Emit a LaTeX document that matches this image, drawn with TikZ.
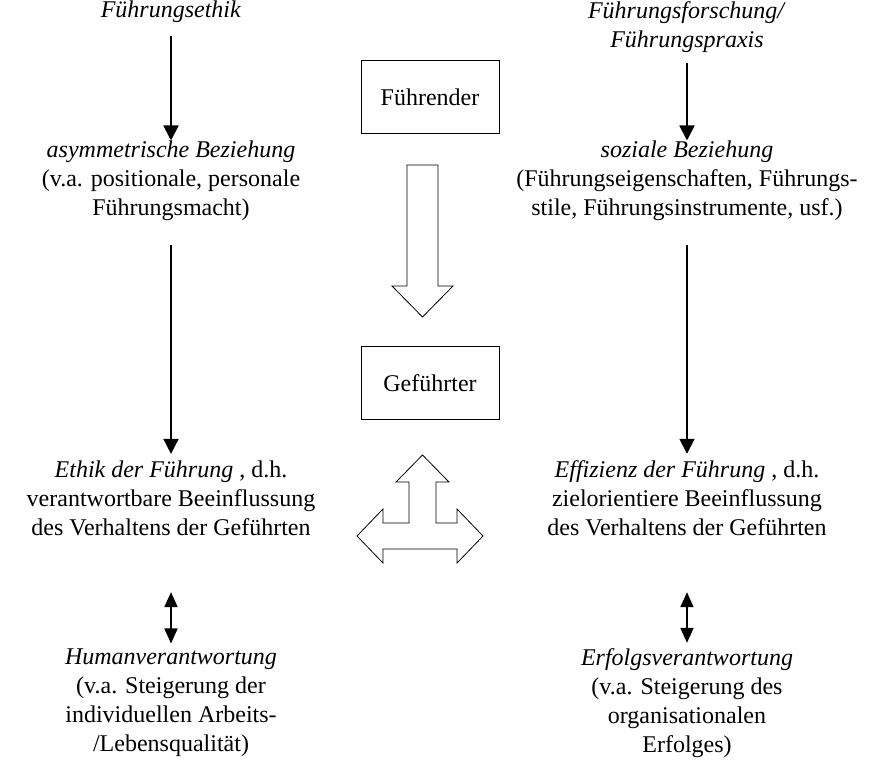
\documentclass[tikz,border=0pt]{standalone}
\usepackage{fontspec}
\setmainfont{Liberation Serif}
\usetikzlibrary{arrows.meta,arrows}
\usetikzlibrary{positioning}

\begin{document}
\begin{tikzpicture}[x=0.5pt,y=-0.5pt,>={Triangle[length=7.5pt,width=7.5pt]},semithick]
 \tikzstyle{text node}=[align=center,inner sep=0,font=\fontsize{12}{14.5}\selectfont]
 \tikzstyle{box node}=[rectangle,draw,thin,minimum width=69pt,minimum height=36.5pt,font=\fontsize{12}{14.5}\selectfont]
 \tikzset{
 	down arrow/.style={->,line width=0.9pt,shorten <=#1},
 	both arrow/.style={{Triangle[length=7.5pt,width=6.5pt]}-{Triangle[length=7.5pt,width=6.5pt]},line width=0.9pt},
 	hollow arrow/.style={draw,thin,fill=white,line join=miter}
 }
 \useasboundingbox (0,0) rectangle (885,773);

       % left column
       \node[text node] (ethik) at (171,12) {\textit{Führungsethik}};
       \node[text node] (asym) at (171,181) {\textit{asymmetrische Beziehung}\\(v.a. positionale, personale\\Führungsmacht)};
       \node[text node] (ethikf) at (171,498) {\textit{Ethik der Führung} , d.h.\\verantwortbare Beeinflussung\\des Verhaltens der Geführten};
       \node[text node] (human) at (171,703) {\textit{Humanverantwortung}\\(v.a. Steigerung der\\individuellen Arbeits-\\/Lebensqualität)};

       % right column
       \node[text node] (forsch) at (687,27) {\textit{Führungsforschung/}\\\textit{Führungspraxis}};
       \node[text node] (sozial) at (687,181) {\textit{soziale Beziehung}\\(Führungseigenschaften, Führungs-\\stile, Führungsinstrumente, usf.)};
       \node[text node] (effiz) at (687,498) {\textit{Effizienz der Führung} , d.h.\\zielorientiere Beeinflussung\\des Verhaltens der Geführten};
       \node[text node] (erfolg) at (687,703) {\textit{Erfolgsverantwortung}\\(v.a. Steigerung des\\organisationalen\\Erfolges)};

       % middle
       \node[box node] (fuehrender) at (430,97) {Führender};
       \node[box node] (gefuehrter) at (430,383) {Geführter};

     \path[draw] (ethik) edge[down arrow=6.5pt] (asym);
     \path[draw] (asym) edge[down arrow=11.5pt,shorten >=3pt] (ethikf);
     \path[draw] (forsch) edge[down arrow=5pt] (sozial);
     \path[draw] (sozial) edge[down arrow=11.5pt,shorten >=3pt] (effiz);
     \path (ethikf) edge[both arrow,shorten <=28pt,shorten >=2.5pt] (human);
     \path (effiz) edge[both arrow,shorten <=28pt,shorten >=2.5pt] (erfolg);

     % hollow arrows
     \draw[hollow arrow] (407,165) -- (438,165) -- (438,286) -- (453,286)
       -- (422.5,317) -- (392,286) -- (407,286) -- cycle;
     \draw[hollow arrow] (357,536) -- (383,509) -- (383,523) -- (409,523)
       -- (409,482) -- (396,482) -- (422.5,455) -- (449,482) -- (436,482)
       -- (436,523) -- (457,523) -- (457,509) -- (483,536) -- (457,563)
       -- (457,549) -- (383,549) -- (383,563) -- cycle;
\end{tikzpicture}
\end{document}
